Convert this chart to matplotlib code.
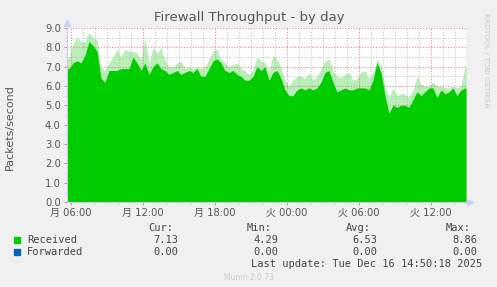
import numpy as np
import matplotlib
matplotlib.use("Agg")
import matplotlib.pyplot as plt
from matplotlib.ticker import MultipleLocator

# ---- data (hours measured from Monday 00:00) ----
start_hour = 5 + 40 / 60.0   # 05:40
step_hour = 20 / 60.0        # one sample every 20 minutes
end_hour = 38.92             # last update ~14:55 Tue

received = [6.9, 7.2, 7.3, 7.2, 7.6, 8.3, 8.1, 7.8, 6.4, 6.2,
            6.8, 6.8, 6.8, 6.9, 6.9, 6.9, 7.5, 7.2, 6.8, 7.2,
            6.6, 7.0, 7.2, 6.9, 6.8, 6.6, 6.7, 6.8, 6.6, 6.7,
            6.8, 6.7, 6.9, 6.5, 6.5, 6.9, 7.3, 7.4, 7.2, 6.8,
            6.7, 6.8, 6.6, 6.5, 6.3, 6.3, 6.5, 7.0, 6.8, 7.0,
            6.3, 6.7, 6.8, 6.4, 5.8, 5.5, 5.5, 5.8, 5.9, 5.8,
            5.9, 5.8, 5.9, 6.2, 6.7, 6.8, 6.2, 5.7, 5.8, 5.9,
            5.8, 5.8, 5.9, 5.9, 5.9, 5.8, 6.3, 7.2, 6.7, 5.5,
            4.6, 5.0, 4.9, 5.0, 5.0, 4.9, 5.3, 5.7, 5.5, 5.7,
            5.9, 5.9, 5.4, 5.8, 5.6, 5.7, 5.9, 5.5, 5.8, 5.9]

received_peak = [7.5, 8.2, 8.5, 8.3, 8.3, 8.8, 8.5, 8.4, 7.0, 6.8,
                 7.2, 7.5, 7.9, 7.5, 7.9, 7.8, 7.8, 7.7, 7.4, 8.5,
                 7.2, 8.0, 7.7, 8.0, 7.3, 7.0, 7.0, 7.2, 7.3, 6.9,
                 7.0, 6.9, 7.0, 6.9, 7.0, 7.4, 7.8, 7.9, 7.4, 7.2,
                 7.0, 7.1, 7.2, 6.9, 6.8, 6.6, 6.8, 7.5, 7.3, 7.2,
                 6.8, 7.6, 7.4, 7.0, 6.3, 6.0, 6.3, 6.5, 6.5, 6.4,
                 6.7, 6.3, 6.5, 6.9, 7.3, 7.4, 6.8, 6.5, 6.4, 6.6,
                 6.7, 6.3, 6.4, 6.7, 6.8, 6.4, 6.7, 7.4, 7.1, 6.0,
                 5.4, 5.9, 5.5, 5.6, 5.6, 5.4, 5.8, 6.5, 6.1, 6.0,
                 6.0, 6.2, 6.0, 6.0, 5.9, 5.9, 6.0, 5.9, 6.0, 7.0]

forwarded = [0.0] * len(received)

major_ticks = [6, 12, 18, 24, 30, 36]
major_labels = ["月 06:00", "月 12:00", "月 18:00", "火 00:00", "火 06:00", "火 12:00"]
y_ticks = [0, 1, 2, 3, 4, 5, 6, 7, 8, 9]

legend_names = ["Received", "Forwarded"]
legend_colors = ["#00cc00", "#0066b3"]
stats_cur = ["7.13", "0.00"]
stats_min = ["4.29", "0.00"]
stats_avg = ["6.53", "0.00"]
stats_max = ["8.86", "0.00"]

# ---- figure ----
W, H = 497, 287
fig = plt.figure(figsize=(W / 100, H / 100), dpi=100, facecolor="#f0f0f0")

def fx(x):
    return x / W

def fy(y):
    return 1 - y / H

L, R, T, B = 67, 466, 28, 202
ax = fig.add_axes([fx(L), fy(B), (R - L) / W, (B - T) / H])
ax.set_facecolor("white")

t = start_hour + step_hour * (np.arange(len(received)) + 0.5)
t_ext = np.concatenate([[start_hour], t, [end_hour]])
rec_ext = np.concatenate([[received[0]], received, [received[-1]]])
peak_ext = np.concatenate([[received_peak[0]], received_peak, [received_peak[-1]]])
fwd_ext = np.concatenate([[forwarded[0]], forwarded, [forwarded[-1]]])

ax.fill_between(t_ext, 0, peak_ext, color="#00cc00", alpha=0.28,
                linewidth=0, zorder=2)
ax.fill_between(t_ext, 0, rec_ext, color="#00cc00",
                linewidth=0, zorder=3)
ax.plot(t_ext, fwd_ext, color="#0066b3", lw=0.8, zorder=4)

ax.set_xlim(start_hour, end_hour)
ax.set_ylim(0, 9)

# grid
ax.set_xticks(major_ticks)
ax.set_xticklabels(major_labels)
ax.xaxis.set_minor_locator(MultipleLocator(1))
ax.set_yticks(y_ticks)
ax.set_yticklabels([f"{v:.1f}" for v in y_ticks])
ax.yaxis.set_minor_locator(MultipleLocator(0.5))

ax.grid(which="minor", color="#b8b8b8", linestyle=(0, (1, 1.5)), linewidth=0.8,
        alpha=0.8, zorder=5)
ax.grid(which="major", color="#e07070", linestyle=(0, (1, 1.5)), linewidth=0.8,
        alpha=0.8, zorder=5)
ax.set_axisbelow(False)

for s in ["top", "right"]:
    ax.spines[s].set_visible(False)
ax.spines["left"].set_color("#c8cdf0")
ax.spines["bottom"].set_color("#c8cdf0")
ax.spines["left"].set_linewidth(0.8)
ax.spines["bottom"].set_linewidth(0.8)
ax.spines["left"].set_zorder(6)
ax.spines["bottom"].set_zorder(6)

font_cjk = ["DejaVu Sans", "Noto Sans CJK JP"]
ax.tick_params(axis="both", which="major", color="#e08080", length=2.5, width=0.7,
               labelcolor="#555555", labelsize=7.2, pad=2)
ax.tick_params(axis="both", which="minor", color="#cccccc", length=1.5, width=0.6)
for lab in ax.get_xticklabels():
    lab.set_family(font_cjk)
for lab in ax.get_yticklabels():
    lab.set_family(font_cjk)

# arrows at axis ends
ax.plot([0], [1.03], marker="^", color="#c8d0f5", markersize=4, transform=ax.transAxes,
        clip_on=False, zorder=7)
ax.plot([1.01], [0], marker=">", color="#c8d0f5", markersize=4, transform=ax.transAxes,
        clip_on=False, zorder=7)

# texts
fig.text(fx(249), fy(18), "Firewall Throughput - by day", ha="center", va="center",
         fontsize=9.5, color="#555555", family="DejaVu Sans")
fig.text(fx(10), fy(127), "Packets/second", rotation=90, ha="center", va="center",
         fontsize=8, color="#555555")
fig.text(fx(486), fy(60), "RRDTOOL / TOBI OETIKER", rotation=270, ha="center",
         va="center", fontsize=5.3, color="#c8c8c8")

mono = "DejaVu Sans Mono"
tc = "#444444"
fs = 7.5
fig.text(fx(173), fy(228), "Cur:", ha="right", va="center", family=mono, fontsize=fs, color=tc)
fig.text(fx(272), fy(228), "Min:", ha="right", va="center", family=mono, fontsize=fs, color=tc)
fig.text(fx(371), fy(228), "Avg:", ha="right", va="center", family=mono, fontsize=fs, color=tc)
fig.text(fx(471), fy(228), "Max:", ha="right", va="center", family=mono, fontsize=fs, color=tc)
for i, name in enumerate(legend_names):
    yy = 240 + 12 * i
    fig.patches.append(plt.Rectangle((fx(14), fy(yy + 3)), 6 / W, 6 / H,
                                     transform=fig.transFigure, color=legend_colors[i]))
    fig.text(fx(27), fy(yy), name, ha="left", va="center", family=mono, fontsize=fs, color=tc)
    fig.text(fx(178), fy(yy), stats_cur[i], ha="right", va="center", family=mono, fontsize=fs, color=tc)
    fig.text(fx(278), fy(yy), stats_min[i], ha="right", va="center", family=mono, fontsize=fs, color=tc)
    fig.text(fx(377), fy(yy), stats_avg[i], ha="right", va="center", family=mono, fontsize=fs, color=tc)
    fig.text(fx(477), fy(yy), stats_max[i], ha="right", va="center", family=mono, fontsize=fs, color=tc)
fig.text(fx(482), fy(264), "Last update: Tue Dec 16 14:50:18 2025", ha="right", va="center",
         family=mono, fontsize=fs, color=tc)
fig.text(fx(249), fy(277), "Munin 2.0.73", ha="center", va="center", fontsize=5.5,
         color="#cccccc")

fig.savefig("out.png", dpi=100, facecolor=fig.get_facecolor())
